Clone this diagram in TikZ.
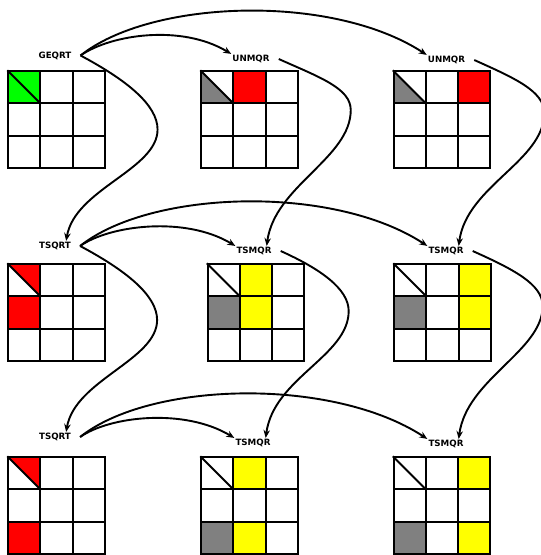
\documentclass[tikz,border=0pt]{standalone}
\usepackage{fontspec}
\setsansfont{DejaVu Sans}
\usepackage{tikz}
\usetikzlibrary{arrows.meta,calc}
\definecolor{cGreen}{HTML}{00FF00}
\definecolor{cRed}{HTML}{FF0000}
\definecolor{cYellow}{HTML}{FFFF00}
\definecolor{cGrey}{HTML}{808080}
\newcommand{\cellsz}{32.3}
% fill cell (row, col) of the current board
\newcommand{\fillcell}[3]{\fill[#3] ({(#2-1)*\cellsz},{(#1-1)*\cellsz}) rectangle ++(\cellsz,\cellsz);}
\newcommand{\lowtri}[1]{\fill[#1] (0,0) -- (0,\cellsz) -- (\cellsz,\cellsz) -- cycle;}
\newcommand{\uptri}[1]{\fill[#1] (0,0) -- (\cellsz,0) -- (\cellsz,\cellsz) -- cycle;}
\newcommand{\boardlines}{%
  \foreach \k in {0,1,2,3} {
    \draw[gline] ({\k*\cellsz},0) -- ({\k*\cellsz},{3*\cellsz});
    \draw[gline] (0,{\k*\cellsz}) -- ({3*\cellsz},{\k*\cellsz});
  }
  \draw[gline] (0,0) -- (\cellsz,\cellsz);}
\tikzset{
  op/.style={font=\sffamily\bfseries\fontsize{8.7}{10}\selectfont, inner sep=1pt},
  gline/.style={line width=2pt, line cap=rect},
  flow/.style={-{Stealth[length=8pt,width=6.5pt]}, line width=1.9pt},
}
\begin{document}
\begin{tikzpicture}[x=1pt,y=-1pt]
\useasboundingbox (0,0) rectangle (541,555);

% kernel names
\node[op] (geqrt)  at (55,55.5) {GEQRT};
\node[op] (unmqrA) at (251,59)  {UNMQR};
\node[op] (unmqrB) at (446.5,60) {UNMQR};
\node[op] (tsqrtA) at (55,246)  {TSQRT};
\node[op] (tsmqrA) at (254,251) {TSMQR};
\node[op] (tsmqrB) at (446,251) {TSMQR};
\node[op] (tsqrtB) at (55,437)  {TSQRT};
\node[op] (tsmqrC) at (253,443) {TSMQR};
\node[op] (tsmqrD) at (446,444) {TSMQR};

% step 1
\begin{scope}[shift={(8,71)}]
  \fillcell{1}{1}{cGreen}
  \boardlines
\end{scope}
\begin{scope}[shift={(201,71)}]
  \lowtri{cGrey} \fillcell{1}{2}{cRed}
  \boardlines
\end{scope}
\begin{scope}[shift={(393.5,71)}]
  \lowtri{cGrey} \fillcell{1}{3}{cRed}
  \boardlines
\end{scope}

% step 2
\begin{scope}[shift={(8,264)}]
  \uptri{cRed} \fillcell{2}{1}{cRed}
  \boardlines
\end{scope}
\begin{scope}[shift={(207.5,264)}]
  \fillcell{1}{2}{cYellow} \fillcell{2}{1}{cGrey} \fillcell{2}{2}{cYellow}
  \boardlines
\end{scope}
\begin{scope}[shift={(394,264)}]
  \fillcell{1}{3}{cYellow} \fillcell{2}{1}{cGrey} \fillcell{2}{3}{cYellow}
  \boardlines
\end{scope}

% step 3
\begin{scope}[shift={(8,457)}]
  \uptri{cRed} \fillcell{3}{1}{cRed}
  \boardlines
\end{scope}
\begin{scope}[shift={(201,457)}]
  \fillcell{1}{2}{cYellow} \fillcell{3}{1}{cGrey} \fillcell{3}{2}{cYellow}
  \boardlines
\end{scope}
\begin{scope}[shift={(393.5,457)}]
  \fillcell{1}{3}{cYellow} \fillcell{3}{1}{cGrey} \fillcell{3}{3}{cYellow}
  \boardlines
\end{scope}

% dependencies, row 1
\draw[flow] ([xshift=8pt]geqrt.east) .. controls +(30,-21) and +(-50,-30) .. (unmqrA.north west);
\draw[flow] ([xshift=8pt]geqrt.east) .. controls +(70,-56) and +(-95,-62) .. (unmqrB.north west);
\draw[flow] ([xshift=8pt]geqrt.east) .. controls +(45,24) and +(0,-25) .. ++(77,74)
  .. controls +(0,40) and +(9,-52) .. ([xshift=-6pt]tsqrtA.north east);
\draw[flow] ([xshift=8pt]unmqrA.east) .. controls +(40,18) and +(0,-22) .. ++(72,51)
  .. controls +(0,48) and +(8,-60) .. ([xshift=-6pt]tsmqrA.north east);
\draw[flow] ([xshift=8pt]unmqrB.east) .. controls +(40,18) and +(0,-22) .. ++(70,53)
  .. controls +(0,48) and +(8,-60) .. ([xshift=-6pt]tsmqrB.north east);

% dependencies, row 2
\draw[flow] ([xshift=8pt]tsqrtA.east) .. controls +(30,-21) and +(-50,-30) .. (tsmqrA.north west);
\draw[flow] ([xshift=8pt]tsqrtA.east) .. controls +(70,-56) and +(-95,-62) .. (tsmqrB.north west);
\draw[flow] ([xshift=8pt]tsqrtA.east) .. controls +(45,24) and +(0,-25) .. ++(77,74)
  .. controls +(0,40) and +(9,-52) .. ([xshift=-6pt]tsqrtB.north east);
\draw[flow] ([xshift=8pt]tsmqrA.east) .. controls +(40,18) and +(0,-22) .. ++(68,60)
  .. controls +(0,45) and +(8,-60) .. ([xshift=-6pt]tsmqrC.north east);
\draw[flow] ([xshift=8pt]tsmqrB.east) .. controls +(40,18) and +(0,-22) .. ++(70,55)
  .. controls +(0,45) and +(8,-60) .. ([xshift=-6pt]tsmqrD.north east);

% dependencies, row 3
\draw[flow] ([xshift=8pt]tsqrtB.east) .. controls +(30,-21) and +(-50,-30) .. (tsmqrC.north west);
\draw[flow] ([xshift=8pt]tsqrtB.east) .. controls +(70,-56) and +(-95,-62) .. (tsmqrD.north west);
\end{tikzpicture}
\end{document}
